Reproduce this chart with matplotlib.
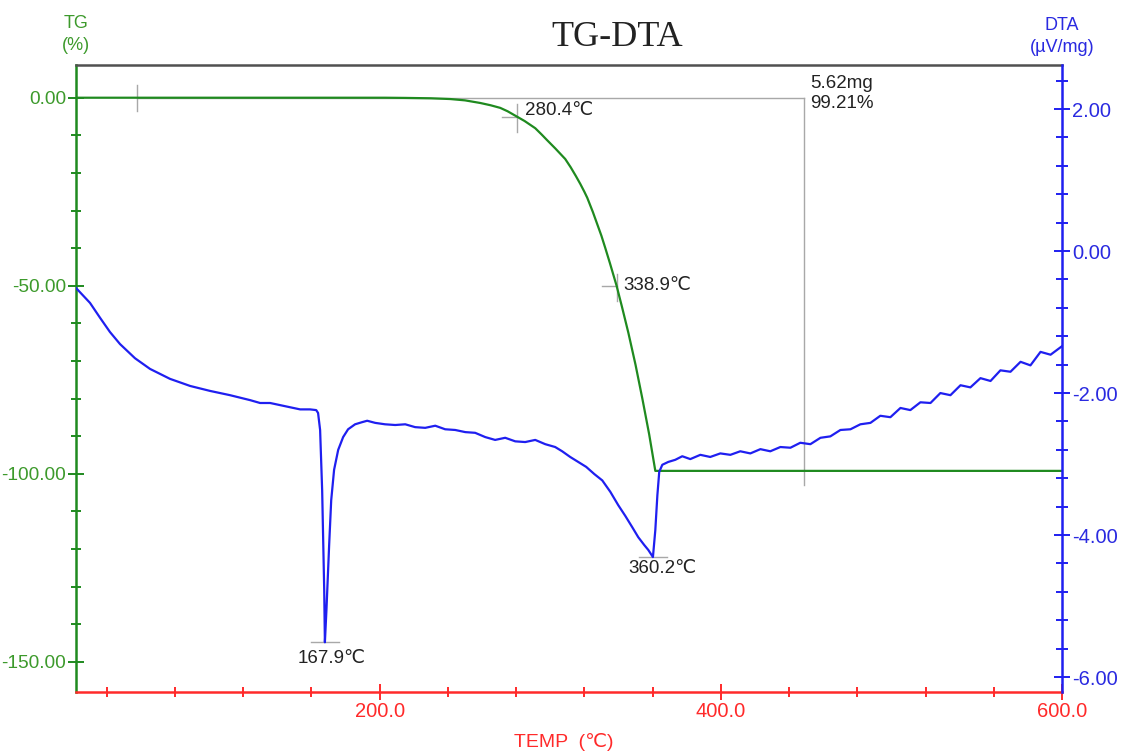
import matplotlib
matplotlib.use("Agg")
import matplotlib.pyplot as plt
from matplotlib.ticker import MultipleLocator, FixedLocator, FuncFormatter

# ---- data -------------------------------------------------------------
# TG curve: temperature (°C) vs. mass change (%)
tg_temp = [22.0, 203.0, 215.0, 230.0, 241.4, 250.0, 259.0, 265.0, 270.7, 275.0,
           280.4, 285.0, 291.2, 295.0, 298.2, 303.0, 308.8, 312.0, 315.0, 317.6,
           320.0, 321.7, 325.0, 330.0, 332.3, 335.0, 338.9, 342.0, 345.8, 350.0,
           354.0, 358.0, 361.6, 388.0, 600.0]
tg_val = [0.0, 0.0, -0.05, -0.15, -0.35, -0.7, -1.4, -2.0, -2.7, -3.6,
          -5.0, -6.2, -8.1, -9.8, -11.3, -13.5, -16.3, -18.5, -20.8, -22.9,
          -25.0, -26.6, -30.4, -36.7, -40.0, -44.0, -50.0, -55.5, -62.5, -71.0,
          -80.0, -89.5, -99.21, -99.21, -99.21]

# DTA curve: temperature (°C) vs. signal (µV/mg)
dta_temp = [22.0, 30.2, 36.1, 41.9, 47.8, 56.6, 65.4, 77.1, 88.9, 100.6,
            112.3, 124.1, 129.9, 135.8, 147.5, 153.4, 159.2, 162.8, 163.9, 165.1,
            166.3, 167.5, 167.9, 168.8, 170.4, 171.6, 173.3, 175.7, 178.6, 181.5,
            185.6, 189.7, 192.7, 197.4, 203.2, 209.1, 215.0, 220.8, 226.7, 232.6,
            238.4, 244.3, 250.2, 256.0, 261.9, 267.7, 273.6, 279.5, 285.3, 291.2,
            297.1, 302.9, 307.0, 311.7, 316.4, 321.1, 325.8, 330.5, 335.2, 339.9,
            344.0, 348.1, 351.6, 355.1, 357.5, 360.2, 361.6, 362.8, 363.9, 365.7,
            369.2, 373.3, 377.4, 382.1, 388.0, 393.8, 399.7, 405.6, 411.4, 417.3,
            423.2, 429.0, 434.9, 440.8, 446.6, 452.5, 458.4, 464.2, 470.1, 476.0,
            481.8, 487.7, 493.5, 499.4, 505.3, 511.1, 517.0, 522.9, 528.7, 534.6,
            540.5, 546.3, 552.2, 558.1, 563.9, 569.8, 575.7, 581.5, 587.4, 593.3,
            600.0]
dta_val = [-0.52, -0.73, -0.94, -1.14, -1.31, -1.51, -1.66, -1.80, -1.90, -1.97,
           -2.03, -2.10, -2.14, -2.14, -2.20, -2.23, -2.23, -2.24, -2.28, -2.52,
           -3.37, -4.77, -5.51, -5.06, -4.14, -3.51, -3.08, -2.80, -2.62, -2.51,
           -2.44, -2.41, -2.39, -2.42, -2.44, -2.45, -2.44, -2.48, -2.49, -2.46,
           -2.51, -2.52, -2.55, -2.56, -2.62, -2.66, -2.63, -2.68, -2.69, -2.66,
           -2.72, -2.76, -2.82, -2.90, -2.97, -3.04, -3.14, -3.23, -3.39, -3.58,
           -3.73, -3.89, -4.03, -4.14, -4.21, -4.31, -3.93, -3.44, -3.11, -3.01,
           -2.97, -2.94, -2.89, -2.93, -2.87, -2.90, -2.85, -2.87, -2.82, -2.85,
           -2.79, -2.82, -2.76, -2.77, -2.70, -2.72, -2.63, -2.61, -2.52, -2.51,
           -2.44, -2.42, -2.32, -2.34, -2.21, -2.24, -2.13, -2.14, -2.00, -2.03,
           -1.89, -1.92, -1.79, -1.83, -1.68, -1.70, -1.56, -1.61, -1.42, -1.46,
           -1.34]

# characteristic points
tg_onset = (280.4, -5.0)
tg_half = (338.9, -50.0)
dta_peak1 = (167.9, -5.51)
dta_peak2 = (360.2, -4.31)
step_start = 57.8
step_end = 449.0
mass_loss_mg = 5.62
mass_loss_pct = 99.21

x_ticks = [200.0, 400.0, 600.0]
tg_ticks = [0.0, -50.0, -100.0, -150.0]
dta_ticks = [2.0, 0.0, -2.0, -4.0, -6.0]

# ---- style ------------------------------------------------------------
GREEN = "#1f8a1f"
GREEN_TXT = "#3d9a2c"
BLUE = "#1f1ff0"
BLUE_TXT = "#2a2ae0"
RED = "#ff2a2a"
GRAY = "#a8a8a8"
DARK = "#222222"
SANS = ["Liberation Sans", "DejaVu Sans", "Noto Sans CJK JP"]

plt.rcParams["font.family"] = SANS

fig = plt.figure(figsize=(11.26, 7.54), dpi=100)
ax = fig.add_axes([76 / 1126, 1 - 692 / 754, 986 / 1126, 627 / 754])
ax2 = ax.twinx()

ax.set_xlim(22, 600)
ax.set_ylim(-158.0, 8.7)
ax2.set_ylim(-6.21, 2.62)

# reference lines of the step evaluation
ax.plot([step_start, step_end], [0, 0], color=GRAY, lw=1.0, zorder=1)
ax.plot([step_end, step_end], [0, -103.0], color=GRAY, lw=1.0, zorder=1)
ax.plot([step_start, step_start], [3.4, -3.5], color=GRAY, lw=1.0, zorder=1)

# crosshair marks on TG curve
for (t, v) in (tg_onset, tg_half):
    ax.plot([t - 8.5, t], [v, v], color=GRAY, lw=1.0, zorder=1)
    ax.plot([t, t], [v + 3.2, v - 4.0], color=GRAY, lw=1.0, zorder=1)

# curves
ax.plot(tg_temp, tg_val, color=GREEN, lw=1.6, zorder=3)
ax2.plot(dta_temp, dta_val, color=BLUE, lw=1.6, zorder=3)

# DTA peak baselines
for (t, v) in (dta_peak1, dta_peak2):
    ax2.plot([t - 8, t + 8], [v, v], color=GRAY, lw=1.0, zorder=2)

# annotations
ann_kw = dict(fontsize=13.5, color=DARK, family=SANS)
ax.annotate(f"{tg_onset[0]:.1f}℃", xy=tg_onset, xytext=(6, 4),
            textcoords="offset points", ha="left", va="center", **ann_kw)
ax.annotate(f"{tg_half[0]:.1f}℃", xy=tg_half, xytext=(5, 0),
            textcoords="offset points", ha="left", va="center", **ann_kw)
ax2.annotate(f"{dta_peak1[0]:.1f}℃", xy=dta_peak1, xytext=(5, -12),
             textcoords="offset points", ha="center", va="center", **ann_kw)
ax2.annotate(f"{dta_peak2[0]:.1f}℃", xy=dta_peak2, xytext=(7, -8),
             textcoords="offset points", ha="center", va="center", **ann_kw)
ax.annotate(f"{mass_loss_mg:.2f}mg\n{mass_loss_pct:.2f}%", xy=(step_end, 0),
            xytext=(4, 3), textcoords="offset points", ha="left", va="center",
            linespacing=1.2, **ann_kw)

# spines
for s in ("left", "right", "top", "bottom"):
    ax2.spines[s].set_visible(s == "right")
ax.spines["right"].set_visible(False)
ax.spines["left"].set_color(GREEN)
ax.spines["bottom"].set_color(RED)
ax.spines["top"].set_color("#505050")
ax2.spines["right"].set_color(BLUE)
for sp in (ax.spines["left"], ax.spines["bottom"], ax.spines["top"], ax2.spines["right"]):
    sp.set_linewidth(1.8)

# x axis
ax.xaxis.set_major_locator(FixedLocator(x_ticks))
ax.xaxis.set_minor_locator(MultipleLocator(40))
ax.xaxis.set_major_formatter(FuncFormatter(lambda v, p: f"{v:.1f}"))
ax.tick_params(axis="x", which="major", direction="inout", length=11, width=1.4,
               color=RED, labelcolor=RED, labelsize=14.5, pad=2)
ax.tick_params(axis="x", which="minor", direction="inout", length=7, width=1.4, color=RED)

# TG axis
ax.yaxis.set_major_locator(FixedLocator(tg_ticks))
ax.yaxis.set_minor_locator(MultipleLocator(10))
ax.yaxis.set_major_formatter(FuncFormatter(lambda v, p: f"{v:.2f}"))
ax.tick_params(axis="y", which="major", direction="inout", length=12, width=1.4,
               color=GREEN, labelcolor=GREEN_TXT, labelsize=13.8, pad=1)
ax.tick_params(axis="y", which="minor", direction="inout", length=7, width=1.4, color=GREEN)

# DTA axis
ax2.yaxis.set_major_locator(FixedLocator(dta_ticks))
ax2.yaxis.set_minor_locator(MultipleLocator(0.4))
ax2.yaxis.set_major_formatter(FuncFormatter(lambda v, p: f"{v:.2f}"))
ax2.tick_params(axis="y", which="major", direction="inout", length=11, width=1.4,
                color=BLUE, labelcolor=BLUE_TXT, labelsize=14.5, pad=2)
ax2.tick_params(axis="y", which="minor", direction="inout", length=8, width=1.4, color=BLUE)

# titles and axis captions
fig.text(617 / 1126, 1 - 38 / 754, "TG-DTA", ha="center", va="center",
         fontsize=26, family=["Liberation Serif", "DejaVu Serif"], color=DARK)
fig.text(76 / 1126, 1 - 23 / 754, "TG", ha="center", va="center", fontsize=13, color=GREEN_TXT)
fig.text(76 / 1126, 1 - 45 / 754, "(%)", ha="center", va="center", fontsize=13, color=GREEN_TXT)
fig.text(1062 / 1126, 1 - 26 / 754, "DTA", ha="center", va="center", fontsize=13, color=BLUE_TXT)
fig.text(1062 / 1126, 1 - 47 / 754, "(µV/mg)", ha="center", va="center", fontsize=13, color=BLUE_TXT)
fig.text(564 / 1126, 1 - 742 / 754, "TEMP  (℃)", ha="center", va="center", fontsize=14, color=RED)

fig.savefig("out.png", dpi=100, facecolor="white")
